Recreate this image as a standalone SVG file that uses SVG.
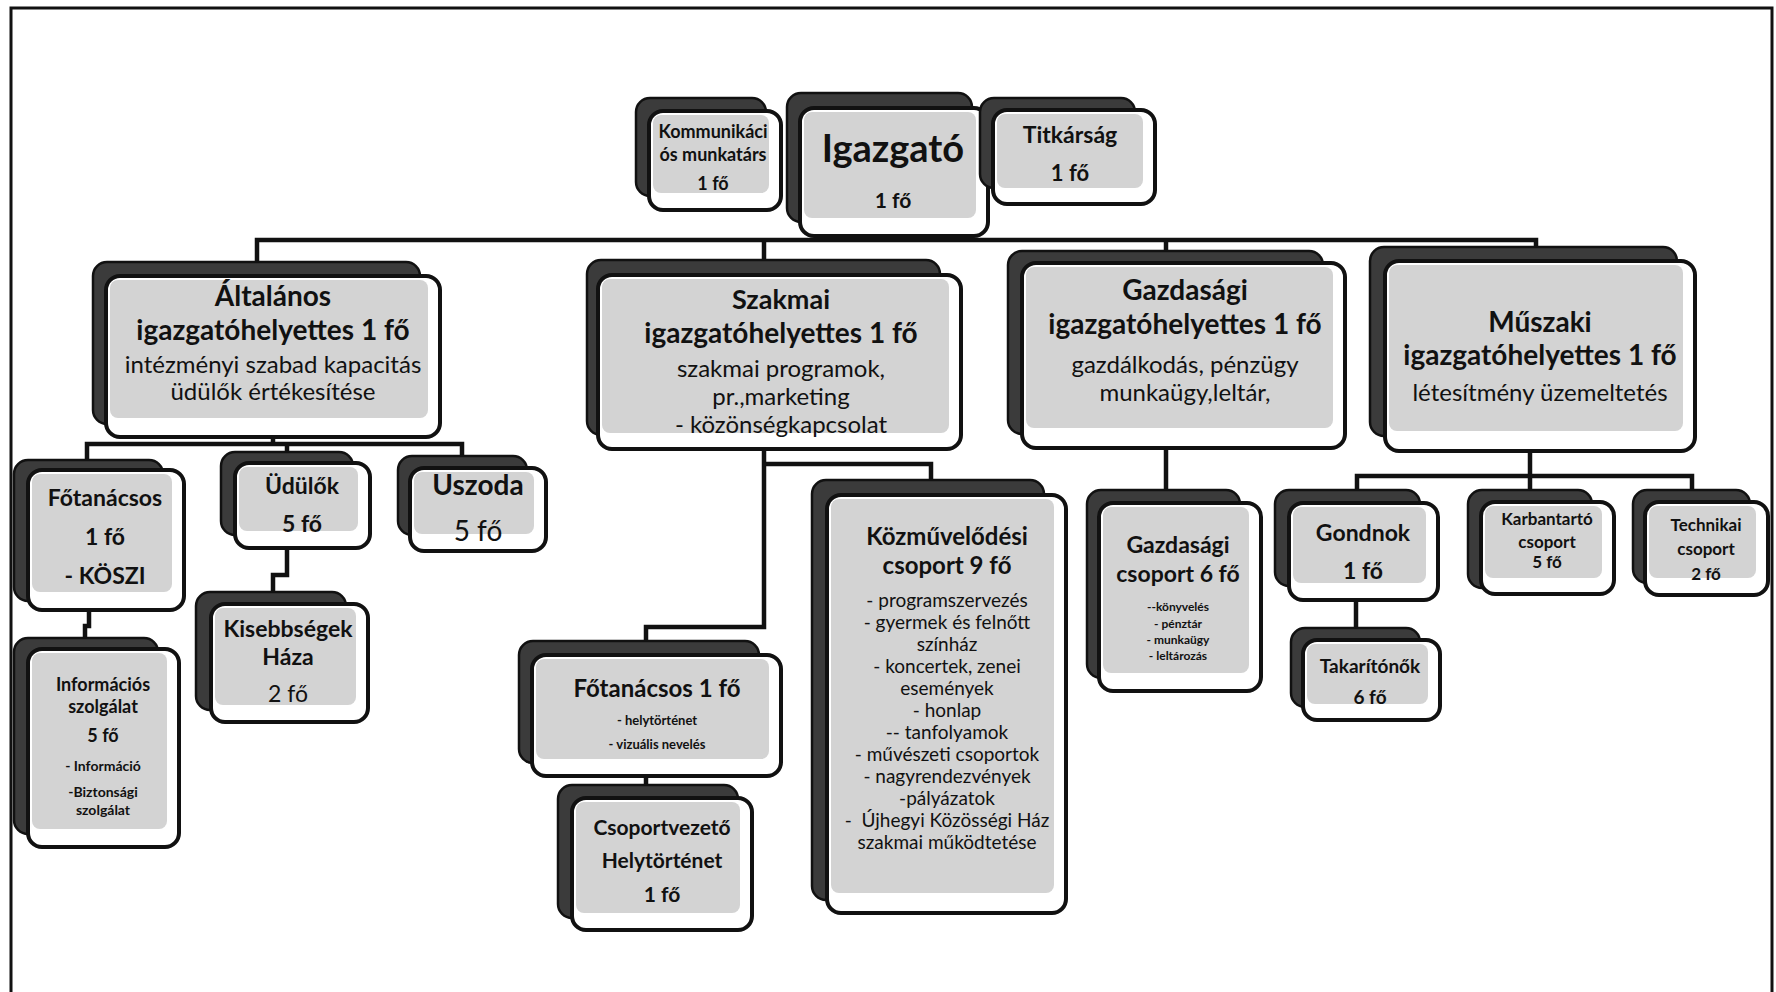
<svg xmlns="http://www.w3.org/2000/svg" width="1776" height="992" viewBox="0 0 1776 992">
<style>
.bk{fill:#3b3b3b;stroke:#111;stroke-width:2.5}
.fr{fill:#fff;stroke:#111;stroke-width:4}
.gy{fill:#d3d3d3}
.ln{fill:none;stroke:#111;stroke-width:4.5}
text{font-family:Lato,"Liberation Sans",sans-serif;fill:#111;text-anchor:middle}
.b{font-weight:700}
</style>
<rect width="1776" height="992" fill="#fff"/>
<path d="M11,995 V8 H1772 V995" fill="none" stroke="#111" stroke-width="3"/>
<g id="connectors" class="ln">
<path d="M877,236 V240"/>
<path d="M257,262 V240 H1536 V247"/>
<path d="M764,240 V260"/>
<path d="M1166,240 V251"/>
<path d="M273,437 V444"/>
<path d="M87,460 V444 H462 V456"/>
<path d="M287,444 V452"/>
<path d="M287,548 V575 H273 V592"/>
<path d="M89,610 V626 H85 V639"/>
<path d="M764,449 V627 H646 V641"/>
<path d="M764,464 H931 V480"/>
<path d="M646,776 V786"/>
<path d="M1166,448 V490"/>
<path d="M1530,451 V490"/>
<path d="M1357,490 V476 H1692 V490"/>
<path d="M1356,600 V628"/>
</g>
<g id="n-komm">
<rect class="bk" x="636" y="98" width="130" height="98" rx="14"/>
<rect class="fr" x="649" y="111" width="132" height="99" rx="14"/>
<rect class="gy" x="653" y="115" width="116" height="78" rx="8"/>
<text class="b" x="713" y="138" font-size="18">Kommunikáci</text>
<text class="b" x="713" y="161" font-size="18">ós munkatárs</text>
<text class="b" x="713" y="190" font-size="18">1 fő</text>
</g>
<g id="n-igazgato">
<rect class="bk" x="787" y="93" width="185" height="129" rx="14"/>
<rect class="fr" x="800" y="108" width="188" height="128" rx="14"/>
<rect class="gy" x="804" y="112" width="172" height="106" rx="8"/>
<text class="b" x="893" y="162" font-size="38">Igazgató</text>
<text class="b" x="893" y="208" font-size="21">1 fő</text>
</g>
<g id="n-titkarsag">
<rect class="bk" x="980" y="98" width="155" height="90" rx="14"/>
<rect class="fr" x="993" y="110" width="162" height="94" rx="14"/>
<rect class="gy" x="997" y="114" width="146" height="74" rx="8"/>
<text class="b" x="1070" y="143" font-size="23">Titkárság</text>
<text class="b" x="1070" y="181" font-size="22">1 fő</text>
</g>
<g id="n-altalanos">
<rect class="bk" x="93" y="262" width="327" height="162" rx="14"/>
<rect class="fr" x="106" y="276" width="334" height="161" rx="14"/>
<rect class="gy" x="110" y="280" width="318" height="138" rx="8"/>
<text class="b" x="273" y="306" font-size="28">Általános</text>
<text class="b" x="273" y="340" font-size="28">igazgatóhelyettes 1 fő</text>
<text x="273" y="373" font-size="24">intézményi szabad kapacitás</text>
<text x="273" y="400" font-size="24">üdülők értékesítése</text>
</g>
<g id="n-szakmai">
<rect class="bk" x="587" y="260" width="353" height="175" rx="14"/>
<rect class="fr" x="598" y="275" width="363" height="174" rx="14"/>
<rect class="gy" x="602" y="279" width="347" height="154" rx="8"/>
<text class="b" x="781" y="309" font-size="27">Szakmai</text>
<text class="b" x="781" y="343" font-size="28">igazgatóhelyettes 1 fő</text>
<text x="781" y="377" font-size="24">szakmai programok,</text>
<text x="781" y="405" font-size="24">pr.,marketing</text>
<text x="781" y="433" font-size="24">- közönségkapcsolat</text>
</g>
<g id="n-gazdasagi">
<rect class="bk" x="1008" y="251" width="315" height="183" rx="14"/>
<rect class="fr" x="1022" y="263" width="323" height="185" rx="14"/>
<rect class="gy" x="1026" y="267" width="307" height="161" rx="8"/>
<text class="b" x="1185" y="300" font-size="28">Gazdasági</text>
<text class="b" x="1185" y="334" font-size="28">igazgatóhelyettes 1 fő</text>
<text x="1185" y="373" font-size="24">gazdálkodás, pénzügy</text>
<text x="1185" y="401" font-size="24">munkaügy,leltár,</text>
</g>
<g id="n-muszaki">
<rect class="bk" x="1370" y="247" width="307" height="189" rx="14"/>
<rect class="fr" x="1385" y="261" width="310" height="190" rx="14"/>
<rect class="gy" x="1389" y="265" width="294" height="166" rx="8"/>
<text class="b" x="1540" y="332" font-size="28">Műszaki</text>
<text class="b" x="1540" y="365" font-size="28">igazgatóhelyettes 1 fő</text>
<text x="1540" y="401" font-size="24">létesítmény üzemeltetés</text>
</g>
<g id="n-fotanacsos-a">
<rect class="bk" x="14" y="460" width="149" height="141" rx="14"/>
<rect class="fr" x="28" y="470" width="156" height="140" rx="14"/>
<rect class="gy" x="32" y="474" width="140" height="118" rx="8"/>
<text class="b" x="105" y="506" font-size="23">Főtanácsos</text>
<text class="b" x="105" y="545" font-size="23">1 fő</text>
<text class="b" x="105" y="584" font-size="23">- KÖSZI</text>
</g>
<g id="n-udulok">
<rect class="bk" x="221" y="452" width="132" height="83" rx="14"/>
<rect class="fr" x="235" y="463" width="135" height="85" rx="14"/>
<rect class="gy" x="239" y="467" width="119" height="64" rx="8"/>
<text class="b" x="302" y="494" font-size="23">Üdülők</text>
<text class="b" x="302" y="532" font-size="23">5 fő</text>
</g>
<g id="n-uszoda">
<rect class="bk" x="398" y="456" width="129" height="79" rx="14"/>
<rect class="fr" x="410" y="468" width="136" height="83" rx="14"/>
<rect class="gy" x="414" y="472" width="120" height="62" rx="8"/>
<text class="b" x="478" y="495" font-size="28">Uszoda</text>
<text x="478" y="541" font-size="28">5 fő</text>
</g>
<g id="n-kisebbsegek">
<rect class="bk" x="196" y="592" width="150" height="118" rx="14"/>
<rect class="fr" x="211" y="604" width="157" height="118" rx="14"/>
<rect class="gy" x="215" y="608" width="141" height="97" rx="8"/>
<text class="b" x="288" y="637" font-size="23">Kisebbségek</text>
<text class="b" x="288" y="665" font-size="23">Háza</text>
<text x="288" y="702" font-size="23">2 fő</text>
</g>
<g id="n-informacios">
<rect class="bk" x="14" y="638" width="144" height="196" rx="14"/>
<rect class="fr" x="28" y="649" width="151" height="198" rx="14"/>
<rect class="gy" x="32" y="653" width="135" height="176" rx="8"/>
<text class="b" x="103" y="691" font-size="18">Információs</text>
<text class="b" x="103" y="713" font-size="18">szolgálat</text>
<text class="b" x="103" y="742" font-size="18">5 fő</text>
<text class="b" x="103" y="771" font-size="14">- Információ</text>
<text class="b" x="103" y="797" font-size="14">-Biztonsági</text>
<text class="b" x="103" y="815" font-size="14">szolgálat</text>
</g>
<g id="n-fotanacsos-b">
<rect class="bk" x="519" y="641" width="240" height="122" rx="14"/>
<rect class="fr" x="532" y="655" width="249" height="121" rx="14"/>
<rect class="gy" x="536" y="659" width="233" height="100" rx="8"/>
<text class="b" x="657" y="697" font-size="24">Főtanácsos 1 fő</text>
<text class="b" x="657" y="725" font-size="13">- helytörténet</text>
<text class="b" x="657" y="749" font-size="13">- vizuális nevelés</text>
</g>
<g id="n-csoportvezeto">
<rect class="bk" x="558" y="785" width="180" height="133" rx="14"/>
<rect class="fr" x="572" y="798" width="180" height="132" rx="14"/>
<rect class="gy" x="576" y="802" width="164" height="111" rx="8"/>
<text class="b" x="662" y="835" font-size="21">Csoportvezető</text>
<text class="b" x="662" y="868" font-size="21">Helytörténet</text>
<text class="b" x="662" y="902" font-size="21">1 fő</text>
</g>
<g id="n-kozmuvelodesi">
<rect class="bk" x="812" y="480" width="232" height="420" rx="14"/>
<rect class="fr" x="827" y="495" width="239" height="418" rx="14"/>
<rect class="gy" x="831" y="499" width="223" height="394" rx="8"/>
<text class="b" x="947" y="545" font-size="24">Közművelődési</text>
<text class="b" x="947" y="574" font-size="24">csoport 9 fő</text>
<text x="947" y="607" font-size="19">- programszervezés</text>
<text x="947" y="629" font-size="19">- gyermek és felnőtt</text>
<text x="947" y="651" font-size="19">színház</text>
<text x="947" y="673" font-size="19">- koncertek, zenei</text>
<text x="947" y="695" font-size="19">események</text>
<text x="947" y="717" font-size="19">- honlap</text>
<text x="947" y="739" font-size="19">-- tanfolyamok</text>
<text x="947" y="761" font-size="19">- művészeti csoportok</text>
<text x="947" y="783" font-size="19">- nagyrendezvények</text>
<text x="947" y="805" font-size="19">-pályázatok</text>
<text x="947" y="827" font-size="19" xml:space="preserve">-  Újhegyi Közösségi Ház</text>
<text x="947" y="849" font-size="19">szakmai működtetése</text>
</g>
<g id="n-gazdasagi-csoport">
<rect class="bk" x="1087" y="490" width="153" height="188" rx="14"/>
<rect class="fr" x="1099" y="503" width="162" height="188" rx="14"/>
<rect class="gy" x="1103" y="507" width="146" height="166" rx="8"/>
<text class="b" x="1178" y="553" font-size="23">Gazdasági</text>
<text class="b" x="1178" y="582" font-size="23">csoport 6 fő</text>
<text class="b" x="1178" y="611" font-size="12">--könyvelés</text>
<text class="b" x="1178" y="628" font-size="12">- pénztár</text>
<text class="b" x="1178" y="644" font-size="12">- munkaügy</text>
<text class="b" x="1178" y="660" font-size="12">- leltározás</text>
</g>
<g id="n-gondnok">
<rect class="bk" x="1275" y="490" width="145" height="96" rx="14"/>
<rect class="fr" x="1289" y="503" width="149" height="97" rx="14"/>
<rect class="gy" x="1293" y="507" width="133" height="76" rx="8"/>
<text class="b" x="1363" y="541" font-size="23">Gondnok</text>
<text class="b" x="1363" y="579" font-size="23">1 fő</text>
</g>
<g id="n-takaritonok">
<rect class="bk" x="1291" y="628" width="129" height="79" rx="14"/>
<rect class="fr" x="1303" y="640" width="137" height="80" rx="14"/>
<rect class="gy" x="1307" y="644" width="121" height="60" rx="8"/>
<text class="b" x="1370" y="673" font-size="19">Takarítónők</text>
<text class="b" x="1370" y="704" font-size="19">6 fő</text>
</g>
<g id="n-karbantarto">
<rect class="bk" x="1468" y="490" width="124" height="98" rx="14"/>
<rect class="fr" x="1481" y="502" width="133" height="92" rx="14"/>
<rect class="gy" x="1485" y="506" width="117" height="72" rx="8"/>
<text class="b" x="1547" y="525" font-size="17">Karbantartó</text>
<text class="b" x="1547" y="548" font-size="17">csoport</text>
<text class="b" x="1547" y="568" font-size="17">5 fő</text>
</g>
<g id="n-technikai">
<rect class="bk" x="1633" y="490" width="117" height="93" rx="14"/>
<rect class="fr" x="1645" y="502" width="123" height="93" rx="14"/>
<rect class="gy" x="1649" y="506" width="107" height="72" rx="8"/>
<text class="b" x="1706" y="531" font-size="17">Technikai</text>
<text class="b" x="1706" y="555" font-size="17">csoport</text>
<text class="b" x="1706" y="580" font-size="17">2 fő</text>
</g>
</svg>
